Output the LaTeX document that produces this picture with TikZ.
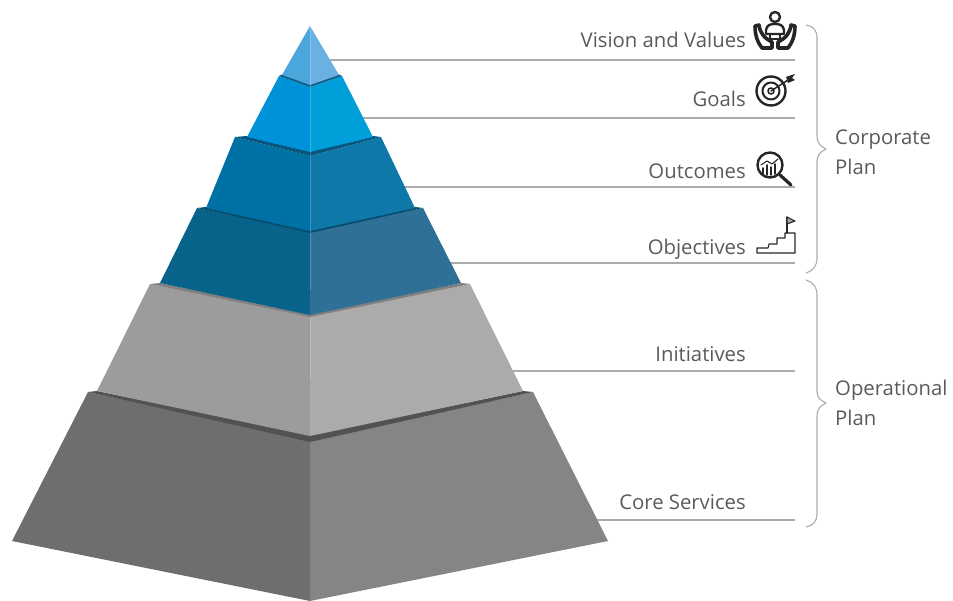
\documentclass[tikz,border=0pt]{standalone}
\usepackage{fontspec}
\setmainfont{Open Sans}
\usepackage{xcolor}
\definecolor{labelgrey}{HTML}{5A5A5A}
\definecolor{leadergrey}{HTML}{ABABAB}
\tikzset{
  itemlabel/.style = {anchor = base east,text = labelgrey,font = \fontsize{20.3}{24}\selectfont,inner sep = 0pt},
  planlabel/.style = {anchor = west,align = left,text = labelgrey,font = \fontsize{20.3}{30}\selectfont,inner sep = 0pt},
  leader/.style = {draw = leadergrey,line width = 1.3pt},
  bracket/.style = {draw = leadergrey,line width = 1.1pt,line join = round},
  seam/.style = {draw = white,opacity = 0.22,line width = 0.7pt},
  icon/.style = {draw = black!85,line width = 1.2pt,line join = round,line cap = round}
}

\begin{document}
\begin{tikzpicture}[x = 1pt,y = -1pt]
    \useasboundingbox (0,0) rectangle (953,601);

    \coordinate (visionEnd) at (795,60);
    \coordinate (goalsEnd) at (795,118);
    \coordinate (outcomesEnd) at (795,187);
    \coordinate (objectivesEnd) at (795,263);
    \coordinate (initiativesEnd) at (795,371);
    \coordinate (servicesEnd) at (795,520);
    \coordinate (visionStart) at (320,60);
    \coordinate (goalsStart) at (350,118);
    \coordinate (outcomesStart) at (395,187);
    \coordinate (objectivesStart) at (440,263);
    \coordinate (initiativesStart) at (500,371);
    \coordinate (servicesStart) at (570,520);

    \draw [leader] (visionStart) -- (visionEnd);
    \draw [leader] (goalsStart) -- (goalsEnd);
    \draw [leader] (outcomesStart) -- (outcomesEnd);
    \draw [leader] (objectivesStart) -- (objectivesEnd);
    \draw [leader] (initiativesStart) -- (initiativesEnd);
    \draw [leader] (servicesStart) -- (servicesEnd);

    % pyramid, from the base upwards
    \fill [color = black!57] (88,392) -- (310,441) -- (310,601) -- (12,541) -- cycle;
    \fill [color = black!48] (533,392) -- (310,441) -- (310,601) -- (608,541) -- cycle;
    \fill [color = black!68] (88,392) -- (310,442) -- (533,392) -- (523,391) -- (310,435) -- (97,391) -- cycle;

    \fill [color = black!39] (150,284) -- (310,316) -- (310,436) -- (97,391) -- cycle;
    \fill [color = black!33] (470,284) -- (310,316) -- (310,436) -- (523,391) -- cycle;
    \fill [color = black!50] (150,284) -- (310,317) -- (470,284) -- (461,283) -- (310,314) -- (160,283) -- cycle;

    \fill [color = {rgb,255:red,7;green,99;blue,137}] (197,208) -- (310,232) -- (310,315) -- (160,283) -- cycle;
    \fill [color = {rgb,255:red,47;green,112;blue,151}] (423,208) -- (310,232) -- (310,315) -- (461,283) -- cycle;
    \fill [color = {rgb,255:red,6;green,78;blue,112}] (197,208) -- (310,233) -- (423,208) -- (415,207) -- (310,230) -- (206,207) -- cycle;

    \fill [color = {rgb,255:red,0;green,113;blue,165}] (235,137) -- (310,156) -- (310,231) -- (206,208) -- cycle;
    \fill [color = {rgb,255:red,14;green,120;blue,168}] (381,137) -- (310,156) -- (310,231) -- (415,208) -- cycle;
    \fill [color = {rgb,255:red,7;green,84;blue,124}] (235,137) -- (310,156) -- (381,137) -- (373,136) -- (310,151) -- (247,136) -- cycle;

    \fill [color = {rgb,255:red,0;green,146;blue,216}] (279,76) -- (310,87) -- (310,152) -- (247,137) -- cycle;
    \fill [color = {rgb,255:red,0;green,159;blue,217}] (342,76) -- (310,87) -- (310,152) -- (373,137) -- cycle;
    \fill [color = {rgb,255:red,12;green,92;blue,132}] (279,76) -- (310,87) -- (342,76) -- (339,74.5) -- (310,84) -- (282,74.5) -- cycle;

    \fill [color = {rgb,255:red,75;green,166;blue,220}] (310,26) -- (310,85) -- (282,75) -- cycle;
    \fill [color = {rgb,255:red,106;green,176;blue,226}] (310,26) -- (310,85) -- (339,75) -- cycle;

    \draw [seam] (310,26) -- (310,290);
    \draw [seam] (310,318) -- (310,380);

    % labels
    \node [itemlabel] (vision) at (746,48) {Vision and Values};
    \node [itemlabel] (goals) at (746,107) {Goals};
    \node [itemlabel] (outcomes) at (746,178.5) {Outcomes};
    \node [itemlabel] (objectives) at (746,254.5) {Objectives};
    \node [itemlabel] (initiatives) at (746,362) {Initiatives};
    \node [itemlabel] (services) at (746,509.5) {Core Services};
    \node [planlabel] (corporate) at (835,152) {Corporate\\Plan};
    \node [planlabel] (operational) at (835,402.5) {Operational\\Plan};

    % brackets
    \draw [bracket] (806,25) .. controls (813,26) and (817,30) .. (817,38) -- (817,136) .. controls (817,143) and (820,146) .. (826,149) .. controls (820,152) and (817,155) .. (817,162) -- (817,258) .. controls (817,266) and (813,271) .. (806,273);
    \draw [bracket] (806,280) .. controls (813,282) and (817,287) .. (817,295) -- (817,391) .. controls (817,398) and (820,400) .. (826,403) .. controls (820,406) and (817,409) .. (817,416) -- (817,514) .. controls (817,521) and (813,526) .. (806,527);

    % icons
    \begin{scope}[icon]
    \draw [line width = 2.4pt] (775,17) circle (5);
    \draw [line width = 2.4pt] (766,30) .. controls (767,25) and (770,24) .. (775,24) .. controls (780,24) and (783,25) .. (784,30) -- (784,34) -- (766,34) -- cycle;
    \draw [line width = 2.4pt] (770,34) -- (770,39) -- (780,39) -- (780,34);
    \draw [line width = 3.6pt] (755,26) -- (759,25) .. controls (760,33) and (764,38) .. (772,42) -- (772,48) -- (762,48) .. controls (758,43) and (755,36) .. (755,26);
    \draw [line width = 3.6pt] (795,26) -- (791,25) .. controls (790,33) and (786,38) .. (778,42) -- (778,48) -- (788,48) .. controls (792,43) and (795,36) .. (795,26);

    \draw [line width = 2.4pt] (771,91) circle (14.5);
    \draw [line width = 2pt] (771,91) circle (8.5);
    \draw [line width = 1.6pt] (771,91) circle (3);
    \draw [line width = 1.5pt] (771,91) -- (788,80);
    \fill [color = black!85] (786,77) -- (795,74) -- (792,78) -- (795,80) -- (788,83) -- cycle;

    \draw [line width = 2.4pt] (770,165) circle (12.5);
    \draw [line width = 3.2pt] (780,175) -- (791,185);
    \draw [line width = 1.8pt] (763,174) -- (763,168) (767,175) -- (767,165) (771,175) -- (771,167) (775,174) -- (775,164);
    \draw [line width = 1.1pt] (761,165) -- (767,161) -- (772,164) -- (778,159);

    \draw [line width = 1.1pt] (757,248) -- (768,248) -- (769,244) -- (777,244) -- (777,238) -- (785,238) -- (785,233) -- (795,233) -- (795,253) -- (757,253) -- cycle;
    \draw [line width = 1.1pt] (787,233) -- (787,217);
    \draw [line width = 1.1pt,fill = black!35] (787,217) -- (795,221) -- (787,224) -- cycle;
    \end{scope}
\end{tikzpicture}
\end{document}
